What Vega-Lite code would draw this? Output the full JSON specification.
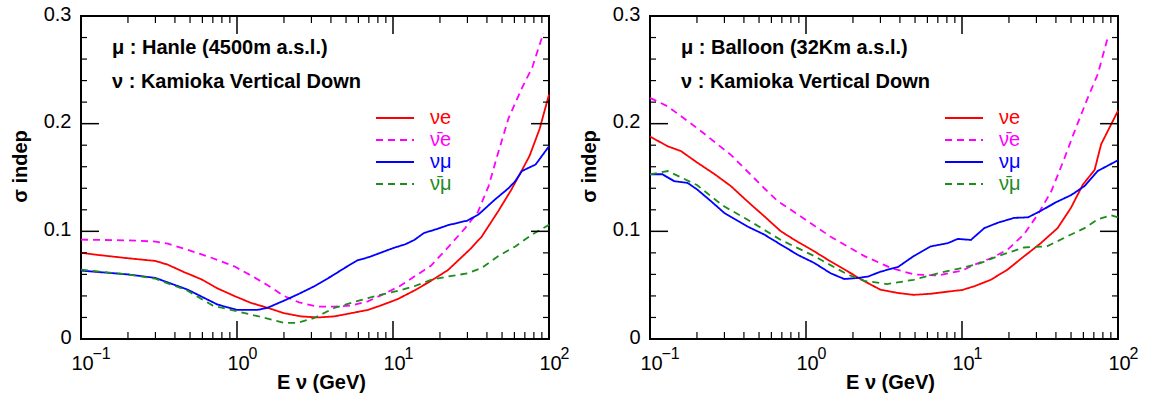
{
"$schema": "https://vega.github.io/schema/vega-lite/v6.json",
"padding": {"left": 9, "top": 3, "right": 0, "bottom": 0},
"spacing": 8,
"config": {"font": "Liberation Sans", "view": {"stroke": "black", "strokeWidth": 2}, "axis": {"grid": false, "tickColor": "black", "labelColor": "black", "titleColor": "black"}},
"resolve": {"scale": {"color": "independent", "strokeDash": "independent"}},
"datasets": {
"hanle": [
{"series":"nue","E":0.1,"s":0.080},{"series":"nue","E":0.13,"s":0.078},{"series":"nue","E":0.2,"s":0.075},{"series":"nue","E":0.3,"s":0.0725},{"series":"nue","E":0.36,"s":0.069},{"series":"nue","E":0.46,"s":0.062},{"series":"nue","E":0.59,"s":0.0555},{"series":"nue","E":0.75,"s":0.047},{"series":"nue","E":0.96,"s":0.040},{"series":"nue","E":1.23,"s":0.0335},{"series":"nue","E":1.57,"s":0.029},{"series":"nue","E":2.0,"s":0.024},{"series":"nue","E":2.57,"s":0.021},{"series":"nue","E":3.3,"s":0.020},{"series":"nue","E":4.2,"s":0.021},{"series":"nue","E":5.4,"s":0.024},{"series":"nue","E":6.9,"s":0.027},{"series":"nue","E":8.3,"s":0.031},{"series":"nue","E":10.7,"s":0.037},{"series":"nue","E":13.7,"s":0.045},{"series":"nue","E":17.5,"s":0.054},{"series":"nue","E":22.5,"s":0.064},{"series":"nue","E":31,"s":0.083},{"series":"nue","E":37,"s":0.095},{"series":"nue","E":47.4,"s":0.119},{"series":"nue","E":57,"s":0.138},{"series":"nue","E":65.5,"s":0.154},{"series":"nue","E":75,"s":0.170},{"series":"nue","E":87,"s":0.195},{"series":"nue","E":100,"s":0.227},
{"series":"nuebar","E":0.1,"s":0.0923},{"series":"nuebar","E":0.2,"s":0.0916},{"series":"nuebar","E":0.3,"s":0.0905},{"series":"nuebar","E":0.36,"s":0.0885},{"series":"nuebar","E":0.48,"s":0.083},{"series":"nuebar","E":0.7,"s":0.075},{"series":"nuebar","E":0.96,"s":0.0675},{"series":"nuebar","E":1.23,"s":0.059},{"series":"nuebar","E":1.57,"s":0.050},{"series":"nuebar","E":2.0,"s":0.040},{"series":"nuebar","E":2.5,"s":0.034},{"series":"nuebar","E":3.3,"s":0.030},{"series":"nuebar","E":4.2,"s":0.030},{"series":"nuebar","E":5.4,"s":0.031},{"series":"nuebar","E":6.9,"s":0.035},{"series":"nuebar","E":8.5,"s":0.041},{"series":"nuebar","E":11,"s":0.049},{"series":"nuebar","E":13.7,"s":0.058},{"series":"nuebar","E":17.5,"s":0.068},{"series":"nuebar","E":22.5,"s":0.085},{"series":"nuebar","E":29,"s":0.103},{"series":"nuebar","E":35,"s":0.118},{"series":"nuebar","E":41,"s":0.142},{"series":"nuebar","E":47,"s":0.172},{"series":"nuebar","E":55,"s":0.205},{"series":"nuebar","E":67,"s":0.233},{"series":"nuebar","E":78,"s":0.252},{"series":"nuebar","E":92,"s":0.284},
{"series":"numu","E":0.1,"s":0.0635},{"series":"numu","E":0.2,"s":0.060},{"series":"numu","E":0.3,"s":0.0567},{"series":"numu","E":0.48,"s":0.046},{"series":"numu","E":0.75,"s":0.032},{"series":"numu","E":1.0,"s":0.027},{"series":"numu","E":1.35,"s":0.027},{"series":"numu","E":1.57,"s":0.029},{"series":"numu","E":2.0,"s":0.0356},{"series":"numu","E":2.5,"s":0.042},{"series":"numu","E":3.13,"s":0.049},{"series":"numu","E":4.0,"s":0.058},{"series":"numu","E":4.9,"s":0.066},{"series":"numu","E":5.9,"s":0.073},{"series":"numu","E":7,"s":0.076},{"series":"numu","E":8.3,"s":0.080},{"series":"numu","E":10.1,"s":0.0846},{"series":"numu","E":12,"s":0.088},{"series":"numu","E":13.7,"s":0.092},{"series":"numu","E":15.8,"s":0.0985},{"series":"numu","E":19,"s":0.102},{"series":"numu","E":22.5,"s":0.1057},{"series":"numu","E":30,"s":0.110},{"series":"numu","E":35.3,"s":0.1156},{"series":"numu","E":45,"s":0.1295},{"series":"numu","E":55,"s":0.140},{"series":"numu","E":60.8,"s":0.1466},{"series":"numu","E":67,"s":0.156},{"series":"numu","E":82,"s":0.162},{"series":"numu","E":100,"s":0.179},
{"series":"numubar","E":0.1,"s":0.0644},{"series":"numubar","E":0.2,"s":0.060},{"series":"numubar","E":0.3,"s":0.056},{"series":"numubar","E":0.48,"s":0.045},{"series":"numubar","E":0.7,"s":0.031},{"series":"numubar","E":1.0,"s":0.0257},{"series":"numubar","E":1.57,"s":0.019},{"series":"numubar","E":2.0,"s":0.0149},{"series":"numubar","E":2.44,"s":0.0149},{"series":"numubar","E":3.13,"s":0.0195},{"series":"numubar","E":4.2,"s":0.0288},{"series":"numubar","E":5.5,"s":0.034},{"series":"numubar","E":6.9,"s":0.038},{"series":"numubar","E":8.3,"s":0.041},{"series":"numubar","E":11,"s":0.045},{"series":"numubar","E":13.7,"s":0.049},{"series":"numubar","E":17.5,"s":0.055},{"series":"numubar","E":22.5,"s":0.058},{"series":"numubar","E":30,"s":0.061},{"series":"numubar","E":37,"s":0.066},{"series":"numubar","E":47.4,"s":0.077},{"series":"numubar","E":60.8,"s":0.086},{"series":"numubar","E":78,"s":0.097},{"series":"numubar","E":100,"s":0.106}
],
"balloon": [
{"series":"nue","E":0.1,"s":0.188},{"series":"nue","E":0.13,"s":0.179},{"series":"nue","E":0.158,"s":0.1745},{"series":"nue","E":0.2,"s":0.164},{"series":"nue","E":0.26,"s":0.153},{"series":"nue","E":0.33,"s":0.142},{"series":"nue","E":0.42,"s":0.128},{"series":"nue","E":0.54,"s":0.114},{"series":"nue","E":0.69,"s":0.100},{"series":"nue","E":0.89,"s":0.090},{"series":"nue","E":1.13,"s":0.0814},{"series":"nue","E":1.44,"s":0.072},{"series":"nue","E":1.85,"s":0.0628},{"series":"nue","E":2.37,"s":0.0536},{"series":"nue","E":3.0,"s":0.0458},{"series":"nue","E":3.9,"s":0.0427},{"series":"nue","E":4.9,"s":0.041},{"series":"nue","E":6.3,"s":0.042},{"series":"nue","E":8.1,"s":0.044},{"series":"nue","E":10,"s":0.0455},{"series":"nue","E":12,"s":0.049},{"series":"nue","E":15.3,"s":0.055},{"series":"nue","E":19.6,"s":0.0645},{"series":"nue","E":25.1,"s":0.077},{"series":"nue","E":32,"s":0.089},{"series":"nue","E":41,"s":0.103},{"series":"nue","E":50,"s":0.122},{"series":"nue","E":59.6,"s":0.1435},{"series":"nue","E":70.8,"s":0.157},{"series":"nue","E":78,"s":0.181},{"series":"nue","E":100,"s":0.212},
{"series":"nuebar","E":0.1,"s":0.224},{"series":"nuebar","E":0.13,"s":0.216},{"series":"nuebar","E":0.2,"s":0.196},{"series":"nuebar","E":0.33,"s":0.171},{"series":"nuebar","E":0.54,"s":0.140},{"series":"nuebar","E":0.66,"s":0.128},{"series":"nuebar","E":0.89,"s":0.1155},{"series":"nuebar","E":1.44,"s":0.095},{"series":"nuebar","E":2.37,"s":0.077},{"series":"nuebar","E":3.5,"s":0.066},{"series":"nuebar","E":4.9,"s":0.060},{"series":"nuebar","E":7.0,"s":0.059},{"series":"nuebar","E":10,"s":0.0635},{"series":"nuebar","E":12,"s":0.069},{"series":"nuebar","E":15.3,"s":0.075},{"series":"nuebar","E":19.6,"s":0.083},{"series":"nuebar","E":24.9,"s":0.097},{"series":"nuebar","E":30.6,"s":0.1156},{"series":"nuebar","E":37.3,"s":0.137},{"series":"nuebar","E":45.4,"s":0.168},{"series":"nuebar","E":52.7,"s":0.193},{"series":"nuebar","E":64,"s":0.224},{"series":"nuebar","E":74.2,"s":0.246},{"series":"nuebar","E":86,"s":0.280},
{"series":"numu","E":0.1,"s":0.153},{"series":"numu","E":0.12,"s":0.153},{"series":"numu","E":0.143,"s":0.1466},{"series":"numu","E":0.174,"s":0.145},{"series":"numu","E":0.2,"s":0.139},{"series":"numu","E":0.246,"s":0.128},{"series":"numu","E":0.30,"s":0.117},{"series":"numu","E":0.42,"s":0.1046},{"series":"numu","E":0.54,"s":0.097},{"series":"numu","E":0.69,"s":0.0876},{"series":"numu","E":0.89,"s":0.078},{"series":"numu","E":1.13,"s":0.0706},{"series":"numu","E":1.44,"s":0.061},{"series":"numu","E":1.76,"s":0.0557},{"series":"numu","E":2.15,"s":0.0567},{"series":"numu","E":2.5,"s":0.058},{"series":"numu","E":3.0,"s":0.0625},{"series":"numu","E":3.9,"s":0.067},{"series":"numu","E":4.9,"s":0.077},{"series":"numu","E":6.3,"s":0.086},{"series":"numu","E":8.1,"s":0.089},{"series":"numu","E":9.4,"s":0.093},{"series":"numu","E":11.4,"s":0.092},{"series":"numu","E":13.9,"s":0.103},{"series":"numu","E":17,"s":0.108},{"series":"numu","E":21.6,"s":0.1125},{"series":"numu","E":26.5,"s":0.113},{"series":"numu","E":32,"s":0.119},{"series":"numu","E":40,"s":0.127},{"series":"numu","E":50,"s":0.1336},{"series":"numu","E":61,"s":0.142},{"series":"numu","E":74,"s":0.156},{"series":"numu","E":100,"s":0.166},
{"series":"numubar","E":0.1,"s":0.153},{"series":"numubar","E":0.13,"s":0.156},{"series":"numubar","E":0.2,"s":0.143},{"series":"numubar","E":0.27,"s":0.128},{"series":"numubar","E":0.30,"s":0.123},{"series":"numubar","E":0.42,"s":0.111},{"series":"numubar","E":0.69,"s":0.092},{"series":"numubar","E":1.13,"s":0.077},{"series":"numubar","E":1.85,"s":0.0598},{"series":"numubar","E":2.37,"s":0.054},{"series":"numubar","E":3.3,"s":0.051},{"series":"numubar","E":4.9,"s":0.055},{"series":"numubar","E":7.0,"s":0.061},{"series":"numubar","E":10,"s":0.066},{"series":"numubar","E":13.2,"s":0.0706},{"series":"numubar","E":17,"s":0.077},{"series":"numubar","E":25,"s":0.085},{"series":"numubar","E":35,"s":0.086},{"series":"numubar","E":47.6,"s":0.0955},{"series":"numubar","E":61,"s":0.103},{"series":"numubar","E":74,"s":0.111},{"series":"numubar","E":90,"s":0.115},{"series":"numubar","E":100,"s":0.113}
]
},
"hconcat": [
{
"width": 468, "height": 323,
"data": {"name": "hanle"},
"resolve": {"axis": {"x": "independent", "y": "independent"}},
"layer": [
{"mark": {"type": "line", "strokeWidth": 1.8},
 "encoding": {
  "x": {"field": "E", "type": "quantitative", "scale": {"type": "log", "domain": [0.1, 100], "nice": false},
        "axis": {"orient": "bottom", "values": [0.1, 1, 10, 100], "ticks": false, "tickSize": 0, "domain": false, "labelExpr": "'10'", "labelPadding": 14, "labelOffset": 1, "labelFontSize": 20, "labelFlush": false, "labelOverlap": false, "title": "E ν (GeV)", "titleX": 240, "titleY": 49, "titleBaseline": "alphabetic", "titleAlign": "center", "titleFontSize": 20, "titleFontWeight": "bold"}},
  "y": {"field": "s", "type": "quantitative", "scale": {"domain": [0, 0.3], "nice": false, "zero": false},
        "axis": {"orient": "left", "values": [0, 0.1, 0.2, 0.3], "ticks": false, "tickSize": 0, "domain": false, "format": ".1~f", "labelPadding": 10, "labelOffset": -2, "labelFontSize": 20, "labelFlush": false, "labelOverlap": false, "title": "σ indep", "titleX": -55, "titleY": 150, "titleAngle": -90, "titleBaseline": "alphabetic", "titleAlign": "center", "titleFontSize": 20, "titleFontWeight": "bold"}},
  "color": {"field": "series", "type": "nominal", "scale": {"domain": ["nue", "nuebar", "numu", "numubar"], "range": ["#ff0000", "#ff00ff", "#0000ff", "#1e8c1e"]},
        "legend": {"orient": "none", "legendX": 294, "legendY": 91, "title": null, "padding": 0, "symbolType": "stroke", "symbolSize": 1444, "symbolStrokeWidth": 2, "clipHeight": 22, "labelFontSize": 20, "labelOffset": 15, "rowPadding": 0,
                   "labelExpr": "datum.value === 'nue' ? 'νe' : datum.value === 'nuebar' ? 'ν̄e' : datum.value === 'numu' ? 'νμ' : 'ν̄μ'",
                   "encode": {"labels": {"update": {"fill": {"signal": "datum.value === 'nue' ? '#ff0000' : datum.value === 'nuebar' ? '#ff00ff' : datum.value === 'numu' ? '#0000ff' : '#1e8c1e'"}}}}}},
  "strokeDash": {"field": "series", "type": "nominal", "scale": {"domain": ["nue", "nuebar", "numu", "numubar"], "range": [[1, 0], [7, 5], [1, 0], [7, 5]]}}
 }},
{"mark": {"type": "point", "opacity": 0},
 "encoding": {
  "x": {"field": "E", "type": "quantitative", "scale": {"type": "log", "domain": [0.1, 100], "nice": false},
        "axis": {"orient": "bottom", "values": [0.1, 1, 10, 100], "ticks": false, "tickSize": 0, "domain": false, "labelExpr": "datum.value < 0.5 ? '−1' : datum.value < 5 ? '0' : datum.value < 50 ? '1' : '2'", "labelAlign": "left", "labelOffset": 11, "labelPadding": 6, "labelFontSize": 16, "labelFlush": false, "labelOverlap": false, "title": null}},
  "y": {"field": "s", "type": "quantitative", "scale": {"domain": [0, 0.3], "nice": false, "zero": false}, "axis": null}
 }},
{"data": {"values": [{"E": 1}, {"E": 10}]}, "mark": {"type": "rule", "color": "black", "strokeWidth": 1.5},
 "encoding": {"x": {"field": "E", "type": "quantitative", "scale": {"type": "log", "domain": [0.1, 100], "nice": false}, "axis": null}, "y": {"datum": 0, "type": "quantitative", "scale": {"domain": [0, 0.3], "nice": false, "zero": false}, "axis": null}, "y2": {"datum": 0.0167}}},
{"data": {"values": [{"E": 1}, {"E": 10}]}, "mark": {"type": "rule", "color": "black", "strokeWidth": 1.5},
 "encoding": {"x": {"field": "E", "type": "quantitative", "axis": null}, "y": {"datum": 0.3, "type": "quantitative", "axis": null}, "y2": {"datum": 0.2833}}},
{"data": {"values": [{"E": 0.2}, {"E": 0.3}, {"E": 0.4}, {"E": 0.5}, {"E": 0.6}, {"E": 0.7}, {"E": 0.8}, {"E": 0.9}, {"E": 2}, {"E": 3}, {"E": 4}, {"E": 5}, {"E": 6}, {"E": 7}, {"E": 8}, {"E": 9}, {"E": 20}, {"E": 30}, {"E": 40}, {"E": 50}, {"E": 60}, {"E": 70}, {"E": 80}, {"E": 90}]}, "mark": {"type": "rule", "color": "black", "strokeWidth": 1.2},
 "encoding": {"x": {"field": "E", "type": "quantitative", "axis": null}, "y": {"datum": 0, "type": "quantitative", "axis": null}, "y2": {"datum": 0.0065}}},
{"data": {"values": [{"E": 0.2}, {"E": 0.3}, {"E": 0.4}, {"E": 0.5}, {"E": 0.6}, {"E": 0.7}, {"E": 0.8}, {"E": 0.9}, {"E": 2}, {"E": 3}, {"E": 4}, {"E": 5}, {"E": 6}, {"E": 7}, {"E": 8}, {"E": 9}, {"E": 20}, {"E": 30}, {"E": 40}, {"E": 50}, {"E": 60}, {"E": 70}, {"E": 80}, {"E": 90}]}, "mark": {"type": "rule", "color": "black", "strokeWidth": 1.2},
 "encoding": {"x": {"field": "E", "type": "quantitative", "axis": null}, "y": {"datum": 0.3, "type": "quantitative", "axis": null}, "y2": {"datum": 0.2935}}},
{"data": {"values": [{"s": 0.1}, {"s": 0.2}]}, "mark": {"type": "rule", "color": "black", "strokeWidth": 1.5},
 "encoding": {"y": {"field": "s", "type": "quantitative", "axis": null}, "x": {"datum": 0.1, "type": "quantitative", "axis": null}, "x2": {"datum": 0.1304}}},
{"data": {"values": [{"s": 0.1}, {"s": 0.2}]}, "mark": {"type": "rule", "color": "black", "strokeWidth": 1.5},
 "encoding": {"y": {"field": "s", "type": "quantitative", "axis": null}, "x": {"datum": 100, "type": "quantitative", "axis": null}, "x2": {"datum": 76.7}}},
{"data": {"values": [{"s": 0.02}, {"s": 0.04}, {"s": 0.06}, {"s": 0.08}, {"s": 0.12}, {"s": 0.14}, {"s": 0.16}, {"s": 0.18}, {"s": 0.22}, {"s": 0.24}, {"s": 0.26}, {"s": 0.28}]}, "mark": {"type": "rule", "color": "black", "strokeWidth": 1.2},
 "encoding": {"y": {"field": "s", "type": "quantitative", "axis": null}, "x": {"datum": 0.1, "type": "quantitative", "axis": null}, "x2": {"datum": 0.1093}}},
{"data": {"values": [{"s": 0.02}, {"s": 0.04}, {"s": 0.06}, {"s": 0.08}, {"s": 0.12}, {"s": 0.14}, {"s": 0.16}, {"s": 0.18}, {"s": 0.22}, {"s": 0.24}, {"s": 0.26}, {"s": 0.28}]}, "mark": {"type": "rule", "color": "black", "strokeWidth": 1.2},
 "encoding": {"y": {"field": "s", "type": "quantitative", "axis": null}, "x": {"datum": 100, "type": "quantitative", "axis": null}, "x2": {"datum": 91.5}}},
{"data": {"values": [{}]},
 "mark": {"type": "text", "text": ["μ : Hanle (4500m a.s.l.)", "ν : Kamioka Vertical Down"], "align": "left", "baseline": "alphabetic", "fontSize": 20, "fontWeight": "bold", "lineHeight": 33.4, "color": "black"},
 "encoding": {"x": {"datum": 0.158, "type": "quantitative", "axis": null}, "y": {"datum": 0.2643, "type": "quantitative", "axis": null}}}
]
},
{
"width": 468, "height": 323,
"data": {"name": "balloon"},
"resolve": {"axis": {"x": "independent", "y": "independent"}},
"layer": [
{"mark": {"type": "line", "strokeWidth": 1.8},
 "encoding": {
  "x": {"field": "E", "type": "quantitative", "scale": {"type": "log", "domain": [0.1, 100], "nice": false},
        "axis": {"orient": "bottom", "values": [0.1, 1, 10, 100], "ticks": false, "tickSize": 0, "domain": false, "labelExpr": "'10'", "labelPadding": 14, "labelOffset": 1, "labelFontSize": 20, "labelFlush": false, "labelOverlap": false, "title": "E ν (GeV)", "titleX": 240, "titleY": 49, "titleBaseline": "alphabetic", "titleAlign": "center", "titleFontSize": 20, "titleFontWeight": "bold"}},
  "y": {"field": "s", "type": "quantitative", "scale": {"domain": [0, 0.3], "nice": false, "zero": false},
        "axis": {"orient": "left", "values": [0, 0.1, 0.2, 0.3], "ticks": false, "tickSize": 0, "domain": false, "format": ".1~f", "labelPadding": 10, "labelOffset": -2, "labelFontSize": 20, "labelFlush": false, "labelOverlap": false, "title": "σ indep", "titleX": -55, "titleY": 150, "titleAngle": -90, "titleBaseline": "alphabetic", "titleAlign": "center", "titleFontSize": 20, "titleFontWeight": "bold"}},
  "color": {"field": "series", "type": "nominal", "scale": {"domain": ["nue", "nuebar", "numu", "numubar"], "range": ["#ff0000", "#ff00ff", "#0000ff", "#1e8c1e"]},
        "legend": {"orient": "none", "legendX": 294, "legendY": 91, "title": null, "padding": 0, "symbolType": "stroke", "symbolSize": 1444, "symbolStrokeWidth": 2, "clipHeight": 22, "labelFontSize": 20, "labelOffset": 15, "rowPadding": 0,
                   "labelExpr": "datum.value === 'nue' ? 'νe' : datum.value === 'nuebar' ? 'ν̄e' : datum.value === 'numu' ? 'νμ' : 'ν̄μ'",
                   "encode": {"labels": {"update": {"fill": {"signal": "datum.value === 'nue' ? '#ff0000' : datum.value === 'nuebar' ? '#ff00ff' : datum.value === 'numu' ? '#0000ff' : '#1e8c1e'"}}}}}},
  "strokeDash": {"field": "series", "type": "nominal", "scale": {"domain": ["nue", "nuebar", "numu", "numubar"], "range": [[1, 0], [7, 5], [1, 0], [7, 5]]}}
 }},
{"mark": {"type": "point", "opacity": 0},
 "encoding": {
  "x": {"field": "E", "type": "quantitative", "scale": {"type": "log", "domain": [0.1, 100], "nice": false},
        "axis": {"orient": "bottom", "values": [0.1, 1, 10, 100], "ticks": false, "tickSize": 0, "domain": false, "labelExpr": "datum.value < 0.5 ? '−1' : datum.value < 5 ? '0' : datum.value < 50 ? '1' : '2'", "labelAlign": "left", "labelOffset": 11, "labelPadding": 6, "labelFontSize": 16, "labelFlush": false, "labelOverlap": false, "title": null}},
  "y": {"field": "s", "type": "quantitative", "scale": {"domain": [0, 0.3], "nice": false, "zero": false}, "axis": null}
 }},
{"data": {"values": [{"E": 1}, {"E": 10}]}, "mark": {"type": "rule", "color": "black", "strokeWidth": 1.5},
 "encoding": {"x": {"field": "E", "type": "quantitative", "scale": {"type": "log", "domain": [0.1, 100], "nice": false}, "axis": null}, "y": {"datum": 0, "type": "quantitative", "scale": {"domain": [0, 0.3], "nice": false, "zero": false}, "axis": null}, "y2": {"datum": 0.0167}}},
{"data": {"values": [{"E": 1}, {"E": 10}]}, "mark": {"type": "rule", "color": "black", "strokeWidth": 1.5},
 "encoding": {"x": {"field": "E", "type": "quantitative", "axis": null}, "y": {"datum": 0.3, "type": "quantitative", "axis": null}, "y2": {"datum": 0.2833}}},
{"data": {"values": [{"E": 0.2}, {"E": 0.3}, {"E": 0.4}, {"E": 0.5}, {"E": 0.6}, {"E": 0.7}, {"E": 0.8}, {"E": 0.9}, {"E": 2}, {"E": 3}, {"E": 4}, {"E": 5}, {"E": 6}, {"E": 7}, {"E": 8}, {"E": 9}, {"E": 20}, {"E": 30}, {"E": 40}, {"E": 50}, {"E": 60}, {"E": 70}, {"E": 80}, {"E": 90}]}, "mark": {"type": "rule", "color": "black", "strokeWidth": 1.2},
 "encoding": {"x": {"field": "E", "type": "quantitative", "axis": null}, "y": {"datum": 0, "type": "quantitative", "axis": null}, "y2": {"datum": 0.0065}}},
{"data": {"values": [{"E": 0.2}, {"E": 0.3}, {"E": 0.4}, {"E": 0.5}, {"E": 0.6}, {"E": 0.7}, {"E": 0.8}, {"E": 0.9}, {"E": 2}, {"E": 3}, {"E": 4}, {"E": 5}, {"E": 6}, {"E": 7}, {"E": 8}, {"E": 9}, {"E": 20}, {"E": 30}, {"E": 40}, {"E": 50}, {"E": 60}, {"E": 70}, {"E": 80}, {"E": 90}]}, "mark": {"type": "rule", "color": "black", "strokeWidth": 1.2},
 "encoding": {"x": {"field": "E", "type": "quantitative", "axis": null}, "y": {"datum": 0.3, "type": "quantitative", "axis": null}, "y2": {"datum": 0.2935}}},
{"data": {"values": [{"s": 0.1}, {"s": 0.2}]}, "mark": {"type": "rule", "color": "black", "strokeWidth": 1.5},
 "encoding": {"y": {"field": "s", "type": "quantitative", "axis": null}, "x": {"datum": 0.1, "type": "quantitative", "axis": null}, "x2": {"datum": 0.1304}}},
{"data": {"values": [{"s": 0.1}, {"s": 0.2}]}, "mark": {"type": "rule", "color": "black", "strokeWidth": 1.5},
 "encoding": {"y": {"field": "s", "type": "quantitative", "axis": null}, "x": {"datum": 100, "type": "quantitative", "axis": null}, "x2": {"datum": 76.7}}},
{"data": {"values": [{"s": 0.02}, {"s": 0.04}, {"s": 0.06}, {"s": 0.08}, {"s": 0.12}, {"s": 0.14}, {"s": 0.16}, {"s": 0.18}, {"s": 0.22}, {"s": 0.24}, {"s": 0.26}, {"s": 0.28}]}, "mark": {"type": "rule", "color": "black", "strokeWidth": 1.2},
 "encoding": {"y": {"field": "s", "type": "quantitative", "axis": null}, "x": {"datum": 0.1, "type": "quantitative", "axis": null}, "x2": {"datum": 0.1093}}},
{"data": {"values": [{"s": 0.02}, {"s": 0.04}, {"s": 0.06}, {"s": 0.08}, {"s": 0.12}, {"s": 0.14}, {"s": 0.16}, {"s": 0.18}, {"s": 0.22}, {"s": 0.24}, {"s": 0.26}, {"s": 0.28}]}, "mark": {"type": "rule", "color": "black", "strokeWidth": 1.2},
 "encoding": {"y": {"field": "s", "type": "quantitative", "axis": null}, "x": {"datum": 100, "type": "quantitative", "axis": null}, "x2": {"datum": 91.5}}},
{"data": {"values": [{}]},
 "mark": {"type": "text", "text": ["μ : Balloon (32Km a.s.l.)", "ν : Kamioka Vertical Down"], "align": "left", "baseline": "alphabetic", "fontSize": 20, "fontWeight": "bold", "lineHeight": 33.4, "color": "black"},
 "encoding": {"x": {"datum": 0.158, "type": "quantitative", "axis": null}, "y": {"datum": 0.2643, "type": "quantitative", "axis": null}}}
]
}
]
}
